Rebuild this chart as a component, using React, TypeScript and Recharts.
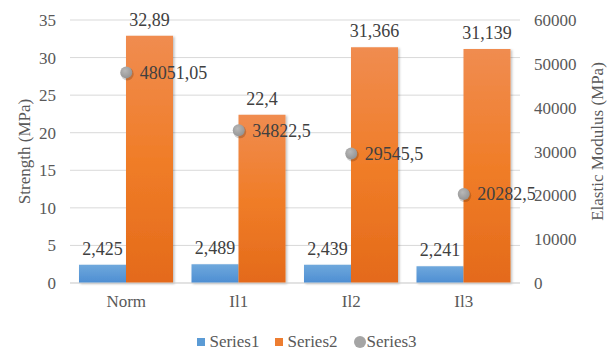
import React from 'react';
import { ComposedChart, Bar, Scatter, XAxis, YAxis, CartesianGrid, Legend, LabelList } from 'recharts';

const categories = ['Norm', 'Il1', 'Il2', 'Il3'];
const series1 = [2.425, 2.489, 2.439, 2.241];
const series2 = [32.89, 22.4, 31.366, 31.139];
const series3 = [48051.05, 34822.5, 29545.5, 20282.5];
const leftTicks = [0, 5, 10, 15, 20, 25, 30, 35];
const rightTicks = [0, 10000, 20000, 30000, 40000, 50000, 60000];
const seriesNames = ['Series1', 'Series2', 'Series3'];
const legendColors = ['#5b9bd5', '#ed7d31', '#a5a5a5'];

const data = categories.map((c, i) => ({ name: c, s1: series1[i], s2: series2[i], s3: series3[i] }));
const fmt = (v: any) => String(v).replace('.', ',');

const FONT = 'Liberation Serif';
const tickStyle = { fill: '#595959', fontSize: 17, fontFamily: FONT };
const labelStyle = { fill: '#404040', fontSize: 18, fontFamily: FONT };

const renderLegend = (props: any) => {
  const payload = props.payload || [];
  return (
    <div style={{ display: 'flex', justifyContent: 'center', alignItems: 'center', fontFamily: FONT, fontSize: 17, color: '#595959', height: 20 }}>
      {payload.map((entry: any, i: number) => {
        const idx = seriesNames.indexOf(entry.value);
        const color = legendColors[idx >= 0 ? idx : i];
        const isCircle = entry.value === 'Series3';
        return (
          <div key={i} style={{ display: 'flex', alignItems: 'center', marginRight: i < payload.length - 1 ? 16 : 0 }}>
            <span style={{ display: 'inline-block', width: isCircle ? 12 : 8, height: isCircle ? 12 : 8, borderRadius: isCircle ? 6 : 0, background: color, marginRight: isCircle ? 1 : 4 }} />
            <span style={{ fontFamily: FONT }}>{entry.value}</span>
          </div>
        );
      })}
    </div>
  );
};

const Dot = (p: any) => {
  if (p.cx == null || p.cy == null) return null;
  return (
    <g>
      <circle cx={p.cx + 1} cy={p.cy + 1.5} r={6.5} fill="rgba(0,0,0,0.18)" />
      <circle cx={p.cx} cy={p.cy} r={6} fill="url(#gDot)" />
    </g>
  );
};

export default function App() {
  return (
    <div style={{ position: 'absolute', left: 0, top: 0, width: 614, height: 354, background: '#fff', fontFamily: FONT }}>
      <ComposedChart
        width={614}
        height={354}
        data={data}
        margin={{ top: 20, right: 0, left: 0, bottom: 2 }}
        barCategoryGap="8%"
        barGap={0}
        style={{ fontFamily: FONT }}
      >
        <defs>
          <linearGradient id="gBlue" x1="0" y1="0" x2="0" y2="1">
            <stop offset="0%" stopColor="#6fa8dc" />
            <stop offset="100%" stopColor="#4d8ed3" />
          </linearGradient>
          <linearGradient id="gOrange" x1="0" y1="0" x2="0" y2="1">
            <stop offset="0%" stopColor="#f08c50" />
            <stop offset="50%" stopColor="#f07d28" />
            <stop offset="100%" stopColor="#e46a1a" />
          </linearGradient>
          <radialGradient id="gDot" cx="40%" cy="35%" r="70%">
            <stop offset="0%" stopColor="#b8b8b8" />
            <stop offset="100%" stopColor="#929292" />
          </radialGradient>
          <filter id="barShadow" x="-10%" y="-10%" width="130%" height="130%">
            <feDropShadow dx="1.5" dy="1" stdDeviation="1.2" floodColor="#000" floodOpacity="0.25" />
          </filter>
        </defs>
        <CartesianGrid vertical={false} stroke="#d9d9d9" yAxisId="left" />
        <XAxis
          dataKey="name"
          height={49}
          axisLine={{ stroke: '#d9d9d9' }}
          tickLine={false}
          tick={tickStyle}
          tickMargin={6}
        />
        <YAxis
          yAxisId="left"
          orientation="left"
          width={70}
          domain={[0, 35]}
          ticks={leftTicks}
          axisLine={false}
          tickLine={false}
          tick={tickStyle}
          tickMargin={8}
          label={{ value: 'Strength (MPa)', angle: -90, position: 'center', dx: -11, style: tickStyle }}
        />
        <YAxis
          yAxisId="right"
          orientation="right"
          width={94}
          domain={[0, 60000]}
          ticks={rightTicks}
          axisLine={false}
          tickLine={false}
          tick={tickStyle}
          tickMargin={8}
          label={{ value: 'Elastic Modulus (MPa)', angle: -90, position: 'center', dx: 30, dy: -10, style: tickStyle }}
        />
        <Bar yAxisId="left" dataKey="s1" name="Series1" fill="url(#gBlue)" filter="url(#barShadow)" isAnimationActive={false}>
          <LabelList dataKey="s1" position="top" offset={10} formatter={fmt} style={labelStyle} />
        </Bar>
        <Bar yAxisId="left" dataKey="s2" name="Series2" fill="url(#gOrange)" filter="url(#barShadow)" isAnimationActive={false}>
          <LabelList dataKey="s2" position="top" offset={10} formatter={fmt} style={labelStyle} />
        </Bar>
        <Scatter yAxisId="right" dataKey="s3" name="Series3" fill="#a5a5a5" shape={Dot} isAnimationActive={false}>
          <LabelList dataKey="s3" position="right" offset={9} formatter={fmt} style={labelStyle} />
        </Scatter>
        <Legend verticalAlign="bottom" content={renderLegend} />
      </ComposedChart>
    </div>
  );
}
